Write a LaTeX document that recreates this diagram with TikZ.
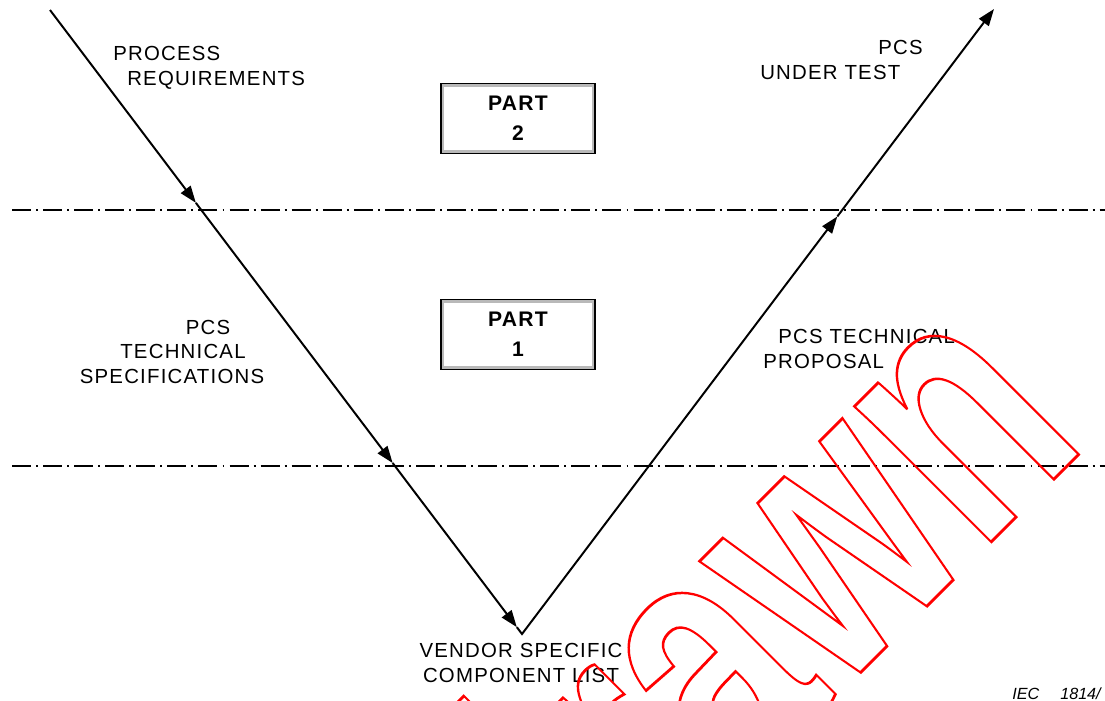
\documentclass[tikz,border=0pt]{standalone}
\usepackage{fontspec}
\setmainfont{Liberation Sans}
\newfontfamily\lblfont{Liberation Sans}[LetterSpace=6]
\usepackage{graphicx}
\usepackage{tikz}
\usetikzlibrary{arrows.meta, calc}

\begin{document}
\begin{tikzpicture}[x=0.025cm, y=-0.025cm,
    lbl/.style={inner sep=0pt, font=\lblfont\fontsize{14.5}{17.4}\selectfont},
    part/.style={draw, line width=1.3pt, minimum width=3.85cm, minimum height=1.75cm,
        align=center, font=\lblfont\bfseries\fontsize{15}{17.4}\selectfont,
        path picture={\draw[gray!55, line width=4.5pt] (path picture bounding box.south west)
            rectangle (path picture bounding box.north east);}},
    ar/.style={-{Triangle[length=12pt, width=8.5pt]}, line width=1.4pt},
    lvl/.style={line width=1.3pt, dash pattern=on 13.5pt off 3.6pt on 1.4pt off 3.6pt}]
\useasboundingbox (0,0) rectangle (1105,700);

% level borders
\coordinate (b2w) at (12,210);
\coordinate (b2e) at (1105,210);
\coordinate (b1w) at (12,466);
\coordinate (b1e) at (1105,466);
\draw[lvl] (b2w) -- (b2e);
\draw[lvl] (b1w) -- (b1e);

% the V
\coordinate (top L) at (50,10);
\coordinate (vtx) at (522,634);
\coordinate (top R) at (994,9);
\coordinate (l1) at ($(top L)!0.309!(vtx)$);
\coordinate (l2) at ($(top L)!0.726!(vtx)$);
\coordinate (l3) at ($(top L)!0.989!(vtx)$);
\coordinate (r1) at ($(vtx)!0.264!(top R)$);
\coordinate (r2) at ($(vtx)!0.668!(top R)$);
\draw[ar] (top L) -- (l1);
\draw[ar] (l1) -- (l2);
\draw[ar] (l2) -- (l3);
\draw[line width=1.4pt] (l3) -- (vtx) -- (r1);
\draw[ar] (r1) -- (r2);
\draw[ar] (r2) -- (top R);

% parts
\node[part] (P2) at (518,118.5) {PART\\[4pt]2};
\node[part] (P1) at (518,334.5) {PART\\[4pt]1};

% labels (base = last line)
\node[lbl, align=left, anchor=base west] (proc) at (113,85)
    {PROCESS\\\hspace*{0.35cm}REQUIREMENTS};
\node[lbl, align=center, anchor=base] (spec) at (172,383)
    {\hspace*{1.8cm}PCS\\\hspace*{0.55cm}TECHNICAL\\SPECIFICATIONS};
\node[lbl, align=left, anchor=base west] (test) at (760,79)
    {\hspace*{2.95cm}PCS\\UNDER TEST};
\node[lbl, align=left, anchor=base west] (prop) at (763,368)
    {\hspace*{0.375cm}PCS TECHNICAL\\PROPOSAL};
\node[lbl, align=center, anchor=base] (vend) at (521,682)
    {VENDOR SPECIFIC\\COMPONENT LIST};
\node[inner sep=0pt, anchor=base west, font=\itshape\fontsize{11.5}{13}\selectfont] (iec)
    at (1012,699) {IEC\hspace{1.3em}1814/};

% stamp
\node[rotate=45, anchor=base east, inner sep=0pt, text=red,
    font=\bfseries\fontsize{259}{260}\selectfont] (stamp) at (1090,443)
    {\special{pdf:literal direct 1 Tr 2 w}\scalebox{0.71}[1]{Withdrawn}\special{pdf:literal direct 0 Tr 0.4 w}};
\end{tikzpicture}
\end{document}
